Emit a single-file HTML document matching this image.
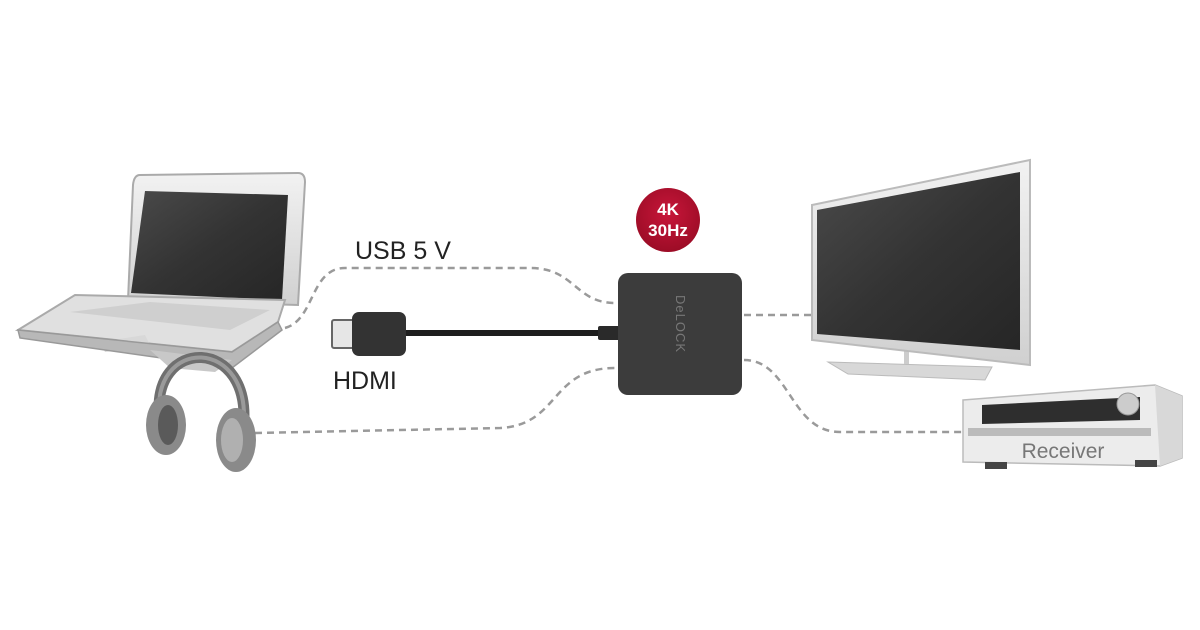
<!DOCTYPE html>
<html><head><meta charset="utf-8"><style>
html,body{margin:0;padding:0;background:#fff;width:1200px;height:630px;overflow:hidden}
svg{display:block}
text{font-family:"Liberation Sans",sans-serif}
</style></head><body>
<svg width="1200" height="630" viewBox="0 0 1200 630">
<defs>
<linearGradient id="scr" x1="0" y1="0" x2="1" y2="1"><stop offset="0" stop-color="#4a4a4a"/><stop offset="0.5" stop-color="#333"/><stop offset="1" stop-color="#262626"/></linearGradient>
<linearGradient id="frm" x1="0" y1="0" x2="0" y2="1"><stop offset="0" stop-color="#f2f2f2"/><stop offset="1" stop-color="#d0d0d0"/></linearGradient>
<radialGradient id="red" cx="0.5" cy="0.4" r="0.6"><stop offset="0" stop-color="#c8163a"/><stop offset="1" stop-color="#9c0c26"/></radialGradient>
</defs>
<!-- dashed lines -->
<g fill="none" stroke="#9a9a9a" stroke-width="2.5" stroke-dasharray="7,5">
<path d="M285 328 C315 320 310 268 345 268 L530 268 C575 268 575 303 615 303"/>
<path d="M255 433 L500 428 C560 425 550 368 615 368"/>
<path d="M744 315 L812 315"/>
<path d="M744 360 C790 360 790 432 840 432 L962 432"/>
</g>
<!-- laptop -->
<path d="M140 175 L298 173 Q305 173 305 182 L298 305 L128 300 L133 185 Q134 175 140 175 Z" fill="url(#frm)" stroke="#aaa" stroke-width="2"/>
<polygon points="145,191 288,195 282,300 131,293" fill="url(#scr)"/>
<polygon points="18,330 75,295 285,300 278,322 232,352" fill="#e0e0e0" stroke="#aaa" stroke-width="2"/>
<polygon points="70,312 150,302 270,310 230,330" fill="#cfcfcf"/>
<polygon points="100,342 145,335 150,345 105,352" fill="#d8d8d8"/>
<polygon points="18,330 232,352 278,322 282,330 232,368 20,338" fill="#b8b8b8" stroke="#999" stroke-width="1.5"/>
<polygon points="150,350 232,360 215,372 170,368" fill="#c8c8c8"/>
<!-- headphones -->
<path d="M160 420 C148 335 255 335 243 430" fill="none" stroke="#6f6f6f" stroke-width="11"/>
<path d="M160 420 C148 335 255 335 243 430" fill="none" stroke="#9a9a9a" stroke-width="4"/>
<ellipse cx="166" cy="425" rx="20" ry="30" fill="#8a8a8a"/>
<ellipse cx="168" cy="425" rx="10" ry="20" fill="#5a5a5a"/>
<ellipse cx="236" cy="440" rx="20" ry="32" fill="#8a8a8a"/>
<ellipse cx="232" cy="440" rx="11" ry="22" fill="#b0b0b0"/>
<!-- HDMI cable -->
<rect x="404" y="330" width="198" height="6" fill="#1e1e1e"/>
<rect x="332" y="320" width="22" height="28" rx="2" fill="#e6e6e6" stroke="#666" stroke-width="2"/>
<rect x="352" y="312" width="54" height="44" rx="7" fill="#333"/>
<rect x="598" y="326" width="22" height="14" rx="2" fill="#2a2a2a"/>
<!-- labels -->
<text x="355" y="259" font-size="25" fill="#222">USB 5 V</text>
<text x="333" y="389" font-size="25" fill="#222">HDMI</text>
<!-- device -->
<rect x="618" y="273" width="124" height="122" rx="10" fill="#3c3c3c"/>
<text transform="translate(676,295) rotate(90)" font-size="13" fill="#777" letter-spacing="1">DeLOCK</text>
<!-- badge -->
<circle cx="668" cy="220" r="32" fill="url(#red)"/>
<text x="668" y="215" font-size="17" font-weight="bold" fill="#fff" text-anchor="middle">4K</text>
<text x="668" y="236" font-size="17" font-weight="bold" fill="#fff" text-anchor="middle">30Hz</text>
<!-- TV -->
<polygon points="828,362 992,367 985,380 848,374" fill="#d8d8d8" stroke="#bbb" stroke-width="1"/>
<rect x="904" y="350" width="5" height="14" fill="#ccc"/>
<polygon points="812,205 1030,160 1030,365 812,340" fill="url(#frm)" stroke="#bbb" stroke-width="2"/>
<polygon points="817,210 1020,172 1020,350 817,334" fill="url(#scr)"/>
<!-- receiver -->
<polygon points="963,400 1155,385 1182,396 1182,458 1160,466 963,462" fill="#ececec" stroke="#bbb" stroke-width="1.5"/>
<polygon points="1155,385 1182,396 1182,458 1160,466" fill="#d8d8d8"/>
<polygon points="982,405 1140,397 1140,420 982,424" fill="#2e2e2e"/>
<circle cx="1128" cy="404" r="11" fill="#ccc" stroke="#999"/>
<rect x="968" y="428" width="183" height="8" fill="#bbb"/>
<rect x="985" y="462" width="22" height="7" fill="#444"/>
<rect x="1135" y="460" width="22" height="7" fill="#444"/>
<text x="1063" y="458" font-size="21" fill="#777" text-anchor="middle">Receiver</text>
</svg>
</body></html>
